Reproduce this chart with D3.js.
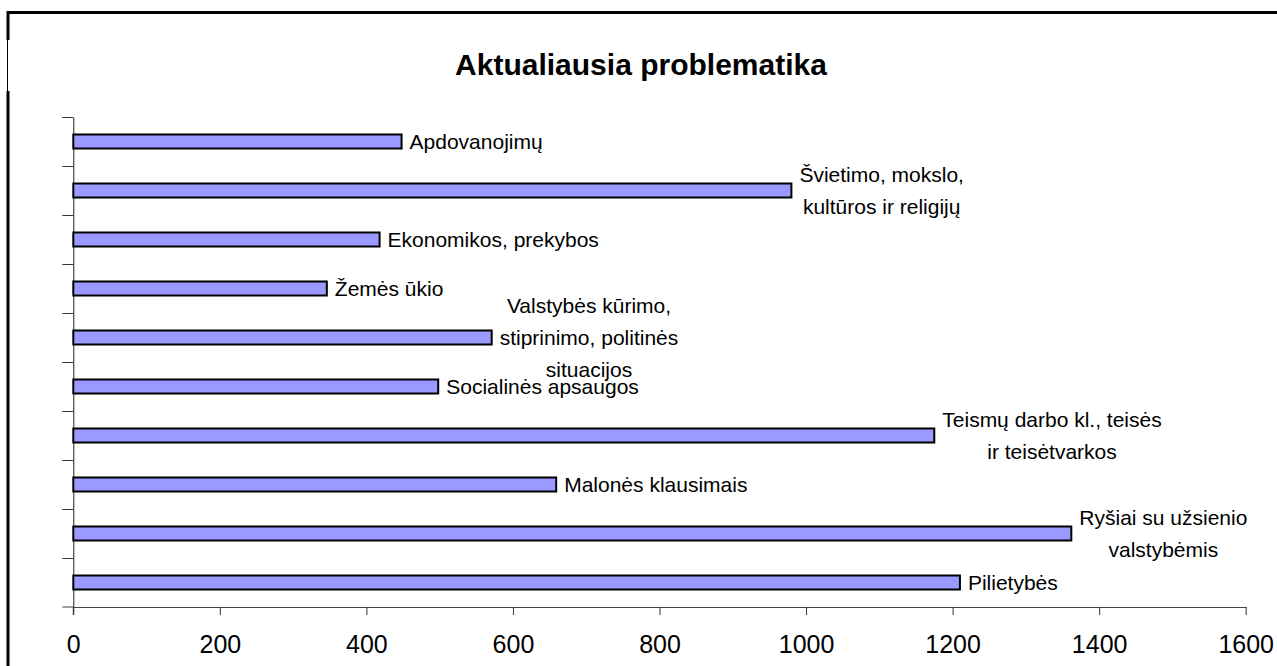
<!DOCTYPE html>
<html>
<head>
<meta charset="utf-8">
<script src="https://cdn.jsdelivr.net/npm/d3@7"></script>
<style>
    html, body { margin: 0; padding: 0; background: #fff; }
    svg { display: block; font-family: 'Liberation Sans', Arial, sans-serif; }
</style>
</head>
<body>
<div class="js-bar-canvas"></div>
<script>
'use strict';

// data (top to bottom as shown)
const categories = [
    'Apdovanojimų',
    'Švietimo, mokslo, kultūros ir religijų',
    'Ekonomikos, prekybos',
    'Žemės ūkio',
    'Valstybės kūrimo, stiprinimo, politinės situacijos',
    'Socialinės apsaugos',
    'Teismų darbo kl., teisės ir teisėtvarkos',
    'Malonės klausimais',
    'Ryšiai su užsienio valstybėmis',
    'Pilietybės'
];
const values = [448, 980, 418, 346, 571, 498, 1175, 659, 1362, 1210];
const labelLines = [
    ['Apdovanojimų'],
    ['Švietimo, mokslo,', 'kultūros ir religijų'],
    ['Ekonomikos, prekybos'],
    ['Žemės ūkio'],
    ['Valstybės kūrimo,', 'stiprinimo, politinės', 'situacijos'],
    ['Socialinės apsaugos'],
    ['Teismų darbo kl., teisės', 'ir teisėtvarkos'],
    ['Malonės klausimais'],
    ['Ryšiai su užsienio', 'valstybėmis'],
    ['Pilietybės']
];
const xTicks = [0, 200, 400, 600, 800, 1000, 1200, 1400, 1600];
const title = 'Aktualiausia problematika';

const width = 1277;
const height = 666;
const plot = { left: 73.3, right: 1245.7, top: 117, bottom: 607 };

const svg = d3.select('.js-bar-canvas')
    .append('svg')
    .attr('width', width)
    .attr('height', height);

// chart frame (top and left edge are visible)
const frame = svg.append('g').attr('stroke', '#000').attr('fill', 'none');
frame.append('line')
    .attr('x1', 7).attr('x2', width).attr('y1', 12.5).attr('y2', 12.5)
    .attr('stroke-width', 3);
frame.append('line')
    .attr('x1', 8).attr('x2', 8).attr('y1', 11).attr('y2', 40)
    .attr('stroke-width', 3);
frame.append('line')
    .attr('x1', 7.5).attr('x2', 7.5).attr('y1', 40).attr('y2', 91)
    .attr('stroke-width', 1);
frame.append('line')
    .attr('x1', 8).attr('x2', 8).attr('y1', 91).attr('y2', height)
    .attr('stroke-width', 3);

// title
svg.append('text')
    .attr('x', 641)
    .attr('y', 75)
    .attr('text-anchor', 'middle')
    .attr('font-size', 30)
    .attr('font-weight', 'bold')
    .text(title);

// scales
const x = d3.scaleLinear()
    .domain([0, 1600])
    .range([plot.left, plot.right]);

const y = d3.scaleBand()
    .domain(categories)
    .range([plot.top, plot.bottom])
    .paddingInner(0.714)
    .paddingOuter(0.357);

// y axis: tick marks between categories
const yIdx = d3.scaleLinear()
    .domain([0, categories.length])
    .range([plot.top, plot.bottom]);

const yAxisGroup = svg.append('g')
    .attr('transform', `translate(${plot.left}, 0)`)
    .call(d3.axisLeft(yIdx)
        .tickValues(d3.range(categories.length))
        .tickSize(11)
        .tickSizeOuter(0)
        .tickFormat(''));

yAxisGroup.select('.domain').attr('stroke', '#222');
yAxisGroup.selectAll('.tick line').attr('stroke', '#333');

yAxisGroup.append('line')
    .attr('x1', 0).attr('x2', 0)
    .attr('y1', plot.bottom).attr('y2', plot.bottom + 8)
    .attr('stroke', '#222');

// x axis
const xAxisGroup = svg.append('g')
    .attr('transform', `translate(0, ${plot.bottom})`)
    .call(d3.axisBottom(x)
        .tickValues(xTicks)
        .tickSize(8)
        .tickSizeOuter(0)
        .tickPadding(20)
        .tickFormat(d3.format('d')));

xAxisGroup.select('.domain').attr('stroke', '#444');
xAxisGroup.selectAll('.tick line').attr('stroke', '#333');
xAxisGroup.selectAll('text')
    .attr('font-family', "'Liberation Sans', Arial, sans-serif")
    .attr('font-size', 25)
    .attr('fill', '#000');

xAxisGroup.append('line')
    .attr('x1', plot.left - 11).attr('x2', plot.left)
    .attr('y1', 0).attr('y2', 0)
    .attr('stroke', '#444');

// bars
svg.append('g')
    .selectAll('rect')
    .data(categories)
    .enter()
    .append('rect')
    .attr('x', x(0))
    .attr('y', d => y(d))
    .attr('width', (d, i) => x(values[i]) - x(0))
    .attr('height', y.bandwidth())
    .attr('fill', '#9999ff')
    .attr('stroke', '#000')
    .attr('stroke-width', 2);

// data labels, right of the bar end, lines centred in their block
const lineGap = 32;
const labels = svg.append('g')
    .attr('font-size', 21)
    .attr('fill', '#000');

categories.forEach((cat, i) => {
    const lines = labelLines[i];
    const cy = y(cat) + y.bandwidth() / 2;
    const g = labels.append('g');
    const texts = g.selectAll('text')
        .data(lines)
        .enter()
        .append('text')
        .attr('y', (d, j) => cy + (j - (lines.length - 1) / 2) * lineGap)
        .attr('dy', '0.35em')
        .text(d => d);

    let maxW = 0;
    texts.each(function () {
        maxW = Math.max(maxW, this.getComputedTextLength());
    });
    const left = x(values[i]) + 8;
    texts
        .attr('text-anchor', 'middle')
        .attr('x', left + maxW / 2);
});
</script>
</body>
</html>
